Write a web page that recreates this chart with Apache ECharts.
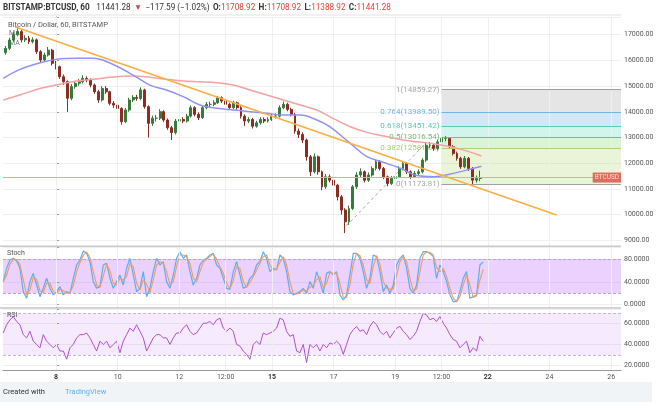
<!DOCTYPE html>
<html><head><meta charset="utf-8">
<script src="https://cdn.jsdelivr.net/npm/echarts@6/dist/echarts.min.js"></script>
<style>html,body{margin:0;padding:0;background:#fff}#c{width:657px;height:410px}</style>
</head><body><div id="c"></div>
<script>
// ---------- data ----------
// 3-hour candles, hours counted from Jan 8 00:00
const candleStartHour = -39;
const candleStepHours = 3;
const firstOpen = 16300;
const closes = [16470,16790,17000,17120,16800,16860,16730,16800,16340,16015,
 16210,16400,15885,15755,15365,15170,14525,14980,15110,15170,
 15300,15235,15040,14780,14460,14910,14780,14330,14260,14130,
 13615,14070,14460,14560,14520,14850,14200,13550,13750,13750,
 14005,13680,13380,13190,13640,13700,13640,13830,14160,13900,
 13770,14160,14290,14290,14350,14545,14420,14290,14160,14350,
 14160,13830,13640,13700,13440,13570,13700,13640,13700,13830,
 13830,14160,14290,14095,13900,13250,13120,12900,12250,11665,
 12250,11665,11080,11470,11340,11145,10690,10180,9720,10240,
 11080,11540,11665,11340,11540,11795,12055,11795,11470,11210,
 11405,11470,11795,11990,11665,11470,11600,11665,12120,12700,
 12700,12575,12830,12960,12960,12640,12380,12190,11860,12190,
 11795,11340,11405,11441.28];
const highs = [16560,16880,17100,17250,17180,16980,16950,16900,16850,16400,
 16300,16520,16450,15980,15800,15450,15220,15080,15200,15280,
 15420,15380,15300,15100,14850,15000,15000,14820,14420,14340,
 14180,14150,14550,14650,14660,14950,14900,14250,13850,13880,
 14100,14060,13740,13450,13720,13800,13790,13920,14240,14220,
 13980,14240,14380,14400,14450,14620,14600,14500,14360,14430,
 14400,14220,13900,13790,13760,13650,13790,13780,13790,13920,
 13940,14250,14400,14350,14160,13960,13350,13200,12960,12320,
 12380,12300,11720,11580,11560,11420,11200,10760,10250,10350,
 11150,11650,11800,11720,11640,11880,12150,12120,11850,11520,
 11500,11580,11880,12080,12040,11720,11700,11760,12200,12800,
 12820,12760,12920,13100,13060,13000,12700,12450,12250,12280,
 12240,11850,11520,11708.92];
const lows = [16220,16400,16720,16940,16700,16720,16640,16660,16250,15900,
 15950,16150,15800,15650,15280,15050,14000,14450,14900,15020,
 15100,15150,14950,14700,14350,14400,14700,14250,14150,14020,
 13500,13560,14000,14380,14430,14450,14120,13000,13450,13620,
 13680,13600,13300,12900,13120,13560,13560,13580,13780,13820,
 13680,13720,14100,14180,14220,14300,14340,14200,14080,14100,
 14080,13740,13450,13560,13350,13380,13500,13560,13580,13640,
 13740,13780,14100,14020,13820,13150,12980,12780,12100,11500,
 11600,11550,10950,11000,11250,10800,10550,10000,9280,9600,
 10180,11000,11450,11250,11270,11480,11720,11720,11380,11100,
 11150,11330,11420,11720,11580,11390,11420,11530,11600,12050,
 12580,12480,12500,12760,12850,12560,12300,12100,11780,11800,
 11700,11174,11250,11300];

// moving averages
const maHours = [-41,-28,-12,0,16,29,42,60,73,86,99,112,125,138,151,164,177,190,203,213,229,242,255,268,281,294,307,320,331];
const maBlue = [15300,15650,15910,16040,16080,16080,15900,15430,15040,14850,14590,14265,14135,14070,14005,13940,13875,13875,13680,13420,12774,12253,12030,11802,11520,11475,11580,11740,11880];
const maRed = [14459,14654,14914,15043,15198,15265,15342,15393,15342,15265,15198,15171,15132,15043,14848,14654,14459,14265,14070,13810,13420,13200,13060,12920,12830,12760,12640,12470,12280];

// drawings
const trendHours = [-32, 389.5];
const trendPrices = [17310, 9985];
const fibLineHours = [226, 288];
const fibLinePrices = [9560, 12800];
const fibStartHour = 300;
const fibRatios = ['1','0.764','0.618','0.5','0.382','0'];
const fibPrices = [14859.27,13989.50,13451.42,13016.54,12581.66,11173.81];
const lastPrice = 11441.28;

// oscillators, sampled every 2.593 h starting at hour -40.97
const oscStartHour = -40.97;
const oscStepHours = 2.593;
const stochK = [40.4,63.7,78.3,81.2,76.5,63.7,22.9,11.2,40.4,54.9,
 34.5,14.1,28.7,46.2,28.7,17.1,22.9,31.6,17.1,22.9,
 20,46.2,69.5,78.3,94,89.9,75.3,40.4,28.7,31.6,
 69.5,72.4,46.2,28.7,40.4,52,34.5,63.7,81.2,52,
 22.9,28.7,57.9,14.1,28.7,57.9,81.2,69.5,75.3,40.4,
 28.7,52,81.2,92.8,81.2,87,57.9,34.5,46.2,69.5,
 78.3,81.2,87,89.9,69.5,63.7,46.2,28.7,27,57.9,
 75.3,52,28.7,31.6,46.2,52,69.5,75.3,92.8,81.2,
 57.9,63.7,60.8,87,81.2,57.9,22.9,17.1,20,22.9,
 28.7,20,40.4,28.7,57.9,40.4,20,54.9,57.9,52,
 57.9,17.1,8.3,17.1,52,89.9,89.9,81.2,57.9,28.7,
 46.2,87,84.1,57.9,22.9,34.5,20,34.5,69.5,81.2,
 87,63.7,28.7,20,34.5,81.2,92.8,92.8,89.9,84.1,
 46.2,69.5,57.9,40.4,17.1,5.4,5.4,22.9,46.2,57.9,
 11.2,14.1,17.1,69.5,75];
const stochD = [40,52,71,79.8,78.9,70.1,43.3,17.1,25.8,47.7,
 44.7,24.3,21.4,37.5,37.5,22.9,20,27.3,24.4,20,
 21.5,33.1,57.9,73.9,86.2,92,82.6,57.9,34.6,30.2,
 50.6,71,59.3,37.5,34.6,46.2,43.3,49.1,72.5,66.6,
 37.5,25.8,43.3,36,21.4,43.3,69.5,75.4,72.4,57.9,
 34.6,40.4,66.6,87,87,84.1,72.5,46.2,40.4,57.9,
 73.9,79.8,84.1,88.5,79.7,66.6,55,37.5,27.9,42.5,
 66.6,63.7,40.4,30.2,38.9,49.1,60.8,72.4,84.1,87,
 69.6,60.8,62.3,73.9,84.1,69.6,40.4,20,18.6,21.5,
 25.8,24.4,30.2,34.6,43.3,49.2,30.2,37.5,56.4,55,
 55,37.5,12.7,12.7,34.6,71,89.9,85.6,69.6,43.3,
 37.5,66.6,85.6,71,40.4,28.7,27.3,27.3,52,75.4,
 84.1,75.4,46.2,24.4,27.3,57.9,87,92.8,91.4,87,
 65.2,57.9,63.7,49.2,28.8,11.3,5.4,14.2,34.6,52,
 34.6,12.7,15.6,43.3,62];
const rsi = [51.1,59,63.7,66.8,62.1,59,49.5,46.4,52.7,43.2,
 40.1,36.9,49.5,43.2,40.1,36.9,40.1,33.8,33.8,25.9,
 36.9,40.1,46.4,49.5,49.5,51.1,46.4,40.1,33.8,43.2,
 40.1,43.2,36.9,40.1,43.2,32.2,43.2,49.5,55.8,52.7,
 59,52.7,46.4,33.8,40.1,46.4,49.5,49.5,46.4,46.4,
 40.1,46.4,51.1,51.1,55.8,59,52.7,49.5,51.1,55.8,
 60.5,60.5,62.1,59,63.7,65.3,55.8,52.7,
 55.8,52.7,40.1,38.5,33.8,30.6,25.9,40.1,43.2,40.1,
 51.1,49.5,51.1,52.7,55.8,65.3,63.7,52.7,47.9,49.5,
 33.8,32.2,40.1,22.7,40.1,36.9,40.1,33.8,40.1,36.9,
 41.6,40.1,43.2,40.1,30.6,40.1,49.5,54.2,57.4,52.7,
 54.2,49.5,57.4,62.1,59,52.7,49.5,52.7,46.4,51.1,
 55.8,57.4,52.7,49.5,44.8,47.9,52.7,62.1,70,68.4,
 63.7,65.3,62.1,66.8,60.5,55.8,49.5,44.8,43.2,36.9,
 40.1,43.2,32.2,36.9,33.8,47.9,43.2];

// axis ticks
const xTickHours = [0,48,96,132,168,216,264,300,336,384,432];
const xTickLabels = ['8','10','12','12:00','15','17','19','12:00','22','24','26'];
const boldLabels = ['8','15','22'];

// ---------- build ----------
const X_MIN = -41.2, X_MAX = 439.6;
const FONT = 'Roboto, "Liberation Sans", sans-serif';

const candleData = closes.map((c, i) => {
  const o = i === 0 ? firstOpen : closes[i - 1];
  return [candleStartHour + i * candleStepHours, o, c, lows[i], highs[i]];
});
const blueData = maHours.map((h, i) => [h, maBlue[i]]);
const redData = maHours.map((h, i) => [h, maRed[i]]);
const kData = stochK.map((v, i) => [oscStartHour + i * oscStepHours, v]);
const dData = stochD.map((v, i) => [oscStartHour + i * oscStepHours, v]);
const rsiData = rsi.map((v, i) => [oscStartHour + i * oscStepHours, v]);

const fibFill = ['rgba(160,160,160,0.28)','rgba(90,170,230,0.27)','rgba(60,210,170,0.23)','rgba(90,200,90,0.22)','rgba(150,200,60,0.2)'];
const fibLine = ['#a0a0a0','#6fb6e8','#55cfae','#6cc56c','#aed36a','#a0a0a0'];
const fibText = ['#8c8c8c','#4a9fd8','#35b797','#4caf50','#8bbf3c','#8c8c8c'];

const vGrid = xTickHours.map(h => ({ xAxis: h }));
const gridLineStyle = { color: '#efefef', width: 1, type: 'solid' };

const yAxisBase = (gi, min, max, step, digits) => ({
  type: 'value', gridIndex: gi, position: 'right', min, max,
  minInterval: step, maxInterval: step,
  axisLine: { show: true, lineStyle: { color: '#9a9a9a' } },
  axisTick: { show: true, length: 3, lineStyle: { color: '#9a9a9a' } },
  splitLine: { show: true, lineStyle: { color: '#efefef' } },
  axisLabel: { fontSize: 7, color: '#555', margin: 3, fontFamily: FONT,
    formatter: v => (Math.abs(v % step) < 1e-6 ? v.toFixed(digits) : '') }
});

const xAxisBase = (gi, showLabels) => ({
  type: 'value', gridIndex: gi, min: X_MIN, max: X_MAX,
  axisLine: { show: showLabels, lineStyle: { color: '#9a9a9a' } },
  axisTick: { show: false },
  splitLine: { show: false },
  axisLabel: showLabels ? {
    show: true, customValues: xTickHours, fontSize: 7, color: '#555', margin: 4, fontFamily: FONT,
    formatter: v => { const i = xTickHours.indexOf(v); const s = i >= 0 ? xTickLabels[i] : '';
      return boldLabels.includes(s) ? '{b|' + s + '}' : s; },
    rich: { b: { fontWeight: 'bold', fontSize: 7, color: '#333', fontFamily: FONT } }
  } : { show: false }
});

const option = {
  animation: false,
  backgroundColor: '#fff',
  grid: [
    { left: 3, right: 36, top: 17, height: 229 },
    { left: 3, right: 36, top: 247, height: 60 },
    { left: 3, right: 36, top: 309, height: 61 }
  ],
  xAxis: [xAxisBase(0, false), xAxisBase(1, false), xAxisBase(2, true)],
  yAxis: [
    yAxisBase(0, 8778, 17689, 1000, 2),
    yAxisBase(1, -4, 101, 40, 4),
    yAxisBase(2, 15.6, 74.1, 20, 4)
  ],
  series: [
    { type: 'line', xAxisIndex: 0, yAxisIndex: 0, z: 1, data: [], silent: true,
      markLine: { silent: true, symbol: ['none','none'], label: { show: false }, lineStyle: gridLineStyle, data: vGrid },
      markArea: { silent: true, data: fibFill.map((c, i) => [
        { xAxis: fibStartHour, yAxis: fibPrices[i], itemStyle: { color: c } },
        { xAxis: X_MAX, yAxis: fibPrices[i + 1] }]) } },
    { type: 'line', xAxisIndex: 0, yAxisIndex: 0, z: 2, data: [], silent: true,
      markLine: { silent: true, symbol: ['none','none'], label: { show: false },
        data: fibPrices.map((p, i) => [
          { coord: [fibStartHour, p], lineStyle: { color: fibLine[i], width: 1.2, type: 'solid' } },
          { coord: [X_MAX, p] }]) } },
    { type: 'scatter', xAxisIndex: 0, yAxisIndex: 0, z: 2, symbolSize: 0, silent: true,
      data: fibPrices.map((p, i) => ({ value: [fibStartHour, p],
        label: { show: true, position: 'left', distance: 2, fontSize: 8, fontFamily: FONT, color: fibText[i],
          formatter: fibRatios[i] + '(' + p.toFixed(2) + ')' } })) },
    { type: 'line', xAxisIndex: 0, yAxisIndex: 0, z: 3, symbol: 'none', silent: true,
      data: fibLineHours.map((h, i) => [h, fibLinePrices[i]]),
      lineStyle: { color: '#a8a8a8', width: 1, type: [3, 3] } },
    { type: 'candlestick', xAxisIndex: 0, yAxisIndex: 0, z: 4, barWidth: 2.4,
      encode: { x: 0, y: [1, 2, 3, 4] }, data: candleData,
      itemStyle: { color: '#367a3c', color0: '#8e2c22', borderColor: '#367a3c', borderColor0: '#8e2c22', borderWidth: 1 },
      markLine: { silent: true, symbol: ['none','none'], label: { show: false },
        lineStyle: { color: '#f2a39c', width: 1, type: 'solid' }, data: [{ yAxis: lastPrice }] } },
    { type: 'line', xAxisIndex: 0, yAxisIndex: 0, z: 5, symbol: 'none', smooth: 0.4, data: redData,
      lineStyle: { color: '#f4a2a2', width: 1.5 } },
    { type: 'line', xAxisIndex: 0, yAxisIndex: 0, z: 5, symbol: 'none', smooth: 0.4, data: blueData,
      lineStyle: { color: '#9292f2', width: 1.5 } },
    { type: 'line', xAxisIndex: 0, yAxisIndex: 0, z: 6, symbol: 'none',
      data: trendHours.map((h, i) => [h, trendPrices[i]]), lineStyle: { color: '#fbae42', width: 1.5 } },
    { type: 'scatter', xAxisIndex: 0, yAxisIndex: 0, z: 10, symbolSize: 0, silent: true,
      data: [{ value: [X_MAX, lastPrice], label: { show: true, position: 'left', distance: 0, formatter: 'BTCUSD',
        color: '#fff', backgroundColor: '#e0483e', fontSize: 6.5, fontFamily: FONT, padding: [2, 2, 1, 2] } }] },
    { type: 'line', xAxisIndex: 1, yAxisIndex: 1, z: 3, symbol: 'none', data: kData,
      lineStyle: { color: '#5aaef2', width: 1.2 },
      markLine: { silent: true, symbol: ['none','none'], label: { show: false }, data: [
        ...vGrid.map(v => ({ ...v, lineStyle: gridLineStyle })),
        { yAxis: 80, lineStyle: { color: '#b7a9c2', type: [3, 2], width: 1 } },
        { yAxis: 20, lineStyle: { color: '#b7a9c2', type: [3, 2], width: 1 } }] },
      markArea: { silent: true, itemStyle: { color: 'rgba(170,70,250,0.25)' }, data: [[{ yAxis: 20 }, { yAxis: 80 }]] } },
    { type: 'line', xAxisIndex: 1, yAxisIndex: 1, z: 3, symbol: 'none', data: dData,
      lineStyle: { color: '#f49a5a', width: 1.1 } },
    { type: 'line', xAxisIndex: 2, yAxisIndex: 2, z: 3, symbol: 'none', data: rsiData,
      lineStyle: { color: '#b04fcc', width: 1 },
      markLine: { silent: true, symbol: ['none','none'], label: { show: false }, data: [
        ...vGrid.map(v => ({ ...v, lineStyle: gridLineStyle })),
        { yAxis: 70, lineStyle: { color: '#c4b6cf', type: [3, 2], width: 1 } },
        { yAxis: 30, lineStyle: { color: '#c4b6cf', type: [3, 2], width: 1 } }] },
      markArea: { silent: true, itemStyle: { color: 'rgba(180,90,250,0.12)' }, data: [[{ yAxis: 30 }, { yAxis: 70 }]] } }
  ],
  graphic: [
    { type: 'rect', left: 0, top: 245.5, shape: { width: 621, height: 1.5 }, style: { fill: '#c9c9c9' }, z: 20 },
    { type: 'rect', left: 0, top: 307.3, shape: { width: 621, height: 1.5 }, style: { fill: '#c9c9c9' }, z: 20 },
    { type: 'rect', left: 0, top: 14.5, shape: { width: 621, height: 1 }, style: { fill: '#e2e2e2' }, z: 20 },
    { type: 'text', left: 3, top: 2, z: 30, style: {
      text: '{b|BITSTAMP:BTCUSD, 60}  {n|' + lastPrice.toFixed(2) + '} {r|▼} {n|−117.59 (−1.02%)} {b|O:}{r|11708.92} {b|H:}{r|11708.92} {b|L:}{r|11388.92} {b|C:}{r|' + lastPrice.toFixed(2) + '}',
      rich: {
        b: { fontSize: 8.2, fontWeight: 'bold', fill: '#333', fontFamily: FONT },
        n: { fontSize: 8.2, fill: '#333', fontFamily: FONT },
        r: { fontSize: 8.2, fill: '#e0433a', fontFamily: FONT }
      } } },
    { type: 'text', left: 8, top: 21, z: 30, style: { text: 'Bitcoin / Dollar, 60, BITSTAMP', fontSize: 7.5, fill: '#555', fontFamily: FONT } },
    { type: 'text', left: 9, top: 30, z: 1, style: { text: 'MA', fontSize: 7, fill: '#777', fontFamily: FONT } },
    { type: 'text', left: 9, top: 40, z: 1, style: { text: 'MA', fontSize: 7, fill: '#777', fontFamily: FONT } },
    { type: 'text', left: 7, top: 250, z: 30, style: { text: 'Stoch', fontSize: 7, fill: '#555', fontFamily: FONT } },
    { type: 'text', left: 7, top: 312, z: 30, style: { text: 'RSI', fontSize: 7, fill: '#555', fontFamily: FONT } },
    { type: 'rect', left: 0, top: 382, shape: { width: 652, height: 20 }, style: { fill: '#f1f4f6' }, z: 20 },
    { type: 'text', left: 3, top: 388, z: 30, style: { text: 'Created with', fontSize: 7.5, fill: '#333', fontFamily: FONT } },
    { type: 'group', left: 49, top: 388, z: 30, children: [
      { type: 'circle', shape: { cx: 3, cy: 5, r: 2.6 }, style: { fill: '#49a2dd' } },
      { type: 'circle', shape: { cx: 7, cy: 3.5, r: 3.5 }, style: { fill: '#49a2dd' } },
      { type: 'circle', shape: { cx: 11, cy: 5, r: 2.6 }, style: { fill: '#49a2dd' } },
      { type: 'rect', shape: { x: 3, y: 5, width: 8, height: 2.6 }, style: { fill: '#49a2dd' } }
    ] },
    { type: 'text', left: 65, top: 388, z: 30, style: { text: 'TradingView', fontSize: 7.5, fill: '#5fb0e4', fontFamily: FONT } }
  ]
};

const chart = echarts.init(document.getElementById('c'), null, { renderer: 'canvas' });
chart.setOption(option);
</script>
</body></html>
